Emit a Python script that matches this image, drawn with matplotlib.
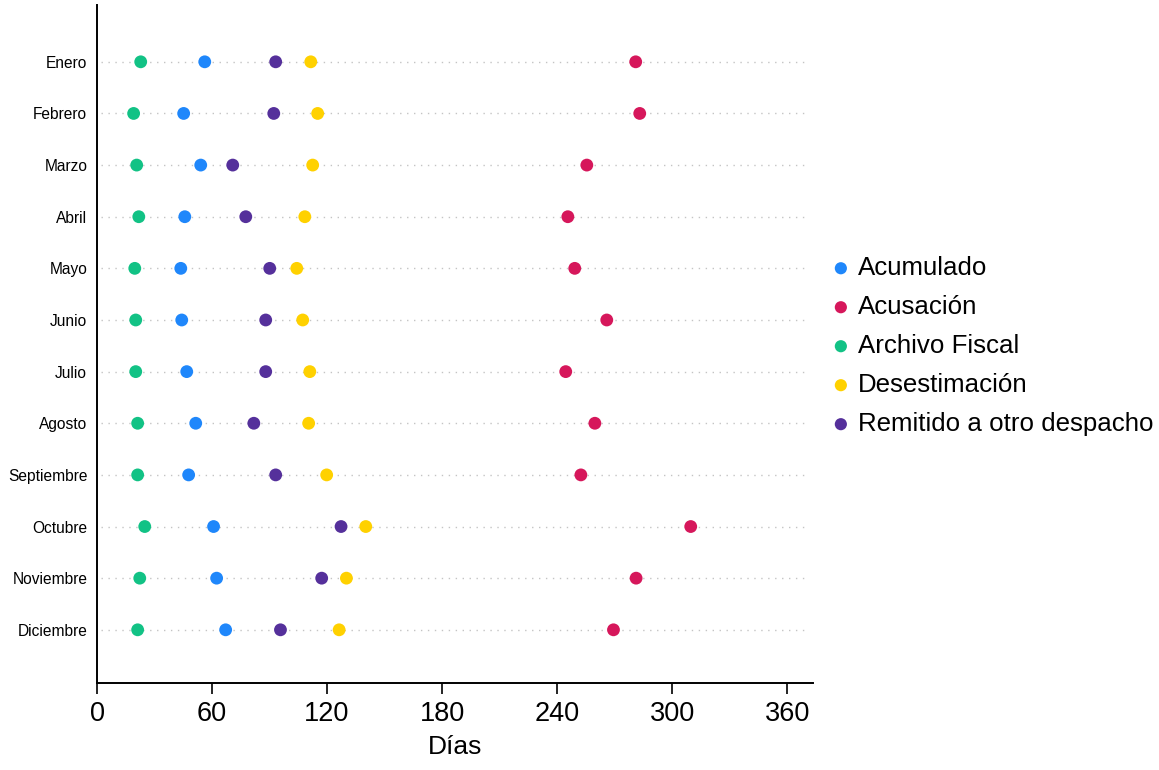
import matplotlib.pyplot as plt
import numpy as np

plt.rcParams['font.family'] = ['Liberation Sans', 'DejaVu Sans']

# 月份（自上而下）
meses = ["Enero", "Febrero", "Marzo", "Abril", "Mayo", "Junio", "Julio",
         "Agosto", "Septiembre", "Octubre", "Noviembre", "Diciembre"]

# 各类型的平均天数
acumulado = [56.2, 45.2, 54.1, 45.8, 43.7, 44.2, 46.8, 51.5, 47.8, 60.8, 62.4, 67.1]
acusacion = [281.0, 283.1, 255.5, 245.6, 249.2, 265.9, 244.5, 259.7, 252.4, 309.7, 281.2, 269.4]
archivo_fiscal = [22.8, 19.1, 20.7, 21.8, 19.7, 20.2, 20.2, 21.2, 21.2, 24.9, 22.3, 21.2]
desestimacion = [111.5, 115.1, 112.5, 108.4, 104.2, 107.3, 111.0, 110.4, 119.8, 140.2, 130.1, 126.3]
remitido = [93.2, 92.2, 70.8, 77.6, 90.1, 88.0, 88.0, 81.8, 93.2, 127.3, 117.2, 95.7]

series = [
    ("Acumulado", acumulado, "#1f87fb"),
    ("Acusación", acusacion, "#d6175b"),
    ("Archivo Fiscal", archivo_fiscal, "#12c285"),
    ("Desestimación", desestimacion, "#ffd100"),
    ("Remitido a otro despacho", remitido, "#55309b"),
]

x_ticks = [0, 60, 120, 180, 240, 300, 360]

fig = plt.figure(figsize=(11.59, 7.70), dpi=100)
ax = fig.add_axes([0.0837, 0.113, 0.6178, 0.8805])

y = np.arange(len(meses))

# 虚线网格（每个月一条）
for yi in y:
    ax.plot([2, 370], [yi, yi], linestyle=(0, (1, 4)), color="#c4c4c4",
            linewidth=1.0, zorder=1)

for nombre, valores, color in series:
    ax.scatter(valores, y, s=85, color=color, label=nombre, zorder=3,
               edgecolors="none")

ax.set_xlim(0, 373.5)
ax.set_ylim(len(meses) - 1 + 1.03, -1.1)
ax.set_yticks(y)
ax.set_yticklabels(meses, fontsize=11.2)
ax.tick_params(axis="y", length=0, pad=7)
ax.set_xticks(x_ticks)
ax.tick_params(axis="x", labelsize=19.5, length=8, width=1.2, pad=5)
ax.set_xlabel("Días", fontsize=19, labelpad=6)

for s in ["top", "right"]:
    ax.spines[s].set_visible(False)
for s in ["left", "bottom"]:
    ax.spines[s].set_linewidth(1.4)

fig.legend(loc="center left", bbox_to_anchor=(826 / 1159, 1 - 346 / 770),
           frameon=False, fontsize=18.6, handletextpad=0.1, labelspacing=0.58,
           markerscale=0.95, borderaxespad=0, borderpad=0, handlelength=1.15)

fig.savefig("out.png", dpi=100)
